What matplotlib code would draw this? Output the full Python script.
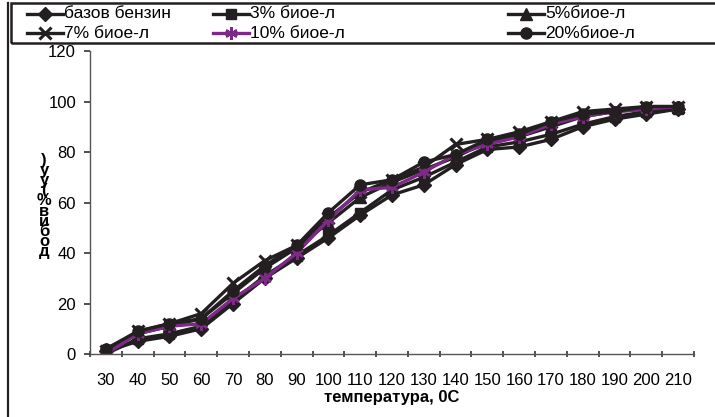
import matplotlib
matplotlib.use("Agg")
import matplotlib.pyplot as plt
from matplotlib.lines import Line2D
from matplotlib.patches import Rectangle
import numpy as np

plt.rcParams['font.family'] = ['Liberation Sans', 'DejaVu Sans']

# temperatures (category axis)
temps = [30, 40, 50, 60, 70, 80, 90, 100, 110, 120, 130, 140, 150, 160, 170, 180, 190, 200, 210]

# yield (%) for each fuel blend
base_fuel = [1, 5, 7, 10, 20, 30, 38, 46, 55, 63, 67, 75, 81, 82, 85, 90, 93, 95, 97]
bio_3 = [0, 6, 8, 11, 21, 31, 39, 47, 56, 65, 70, 76, 82, 84, 87, 91, 94, 96, 97]
bio_5 = [2, 8, 11, 14, 24, 34, 42, 52, 62, 68, 73, 78, 84, 86, 90, 94, 96, 97, 98]
bio_7 = [1, 9, 12, 16, 28, 37, 43, 54, 64, 69, 74, 83, 85, 88, 92, 96, 97, 98, 98]
bio_10 = [0, 8, 11, 12, 22, 30, 40, 53, 65, 66, 72, 79, 83, 86, 91, 94, 96, 97, 98]
bio_20 = [2, 9, 12, 14, 25, 35, 43, 56, 67, 69, 76, 79, 85, 87, 92, 95, 96, 98, 98]

labels = ['базов бензин', '3% биое-л', '5%биое-л', '7% биое-л', '10% биое-л', '20%биое-л']
series = [base_fuel, bio_3, bio_5, bio_7, bio_10, bio_20]

ylabel_chars = [')', 'у', 'у', '(', '%', 'в', 'и', 'б', 'о', 'д']
xlabel = 'температура, 0С'

BLACK = '#231f20'
PURPLE = '#7d2a86'
styles = [
    dict(marker='D', ms=7, color=BLACK),
    dict(marker='s', ms=7.5, color=BLACK),
    dict(marker='^', ms=8.5, color=BLACK),
    dict(marker='x', ms=8, mew=2.2, color=BLACK),
    dict(marker=(6, 2, 0), ms=9, mew=1.8, color=PURPLE),
    dict(marker='o', ms=8, color=BLACK),
]

W, H = 715, 417
fig = plt.figure(figsize=(W / 100, H / 100), dpi=100)
ax = fig.add_axes([90 / W, 1 - 354 / H, (694 - 90) / W, (354 - 51) / H])

x = np.arange(len(temps))
for vals, st in zip(series, styles):
    ax.plot(x, vals, lw=2.4, **st)

ax.set_xlim(-0.5, len(temps) - 0.5)
ax.set_ylim(0, 120)
ax.set_yticks(range(0, 121, 20))
ax.tick_params(axis='y', labelsize=12, length=4, width=1.2, color='#333333', pad=6)

# category axis: ticks between categories, labels at centres
ax.set_xticks(np.arange(-0.5, len(temps), 1.0))
ax.set_xticklabels([])
ax.set_xticks(x, minor=True)
ax.set_xticklabels([str(t) for t in temps], minor=True, fontsize=12)
ax.tick_params(axis='x', which='major', length=4, width=1.2, color='#333333', direction='inout')
ax.tick_params(axis='x', which='minor', length=0, pad=14)

for s in ['top', 'right']:
    ax.spines[s].set_visible(False)
for s in ['left', 'bottom']:
    ax.spines[s].set_color('#555555')
    ax.spines[s].set_linewidth(1)

ax.text(0.5, -0.118, xlabel, transform=ax.transAxes, ha='center', va='top',
        fontsize=12, fontweight='bold')

# stacked y label (one character per line)
fig.text(44 / W, 1 - 206 / H, '\n'.join(ylabel_chars), ha='center', va='center',
         fontsize=12, fontweight='bold', linespacing=0.6)

# outer frame line and legend box
fig.add_artist(Line2D([7.5 / W, 7.5 / W], [0, 1 - 3 / H], color=BLACK, lw=1.6))
fig.add_artist(Rectangle((11 / W, 1 - 43 / H), 1.0, 40 / H, fill=False,
                         edgecolor=BLACK, lw=1.8, transform=fig.transFigure))

col_x = [27, 213, 508]
row_y = [14, 33]
for i, (lab, st) in enumerate(zip(labels, styles)):
    cx = col_x[i % 3]
    cy = 1 - row_y[i // 3] / H
    fig.add_artist(Line2D([cx / W, (cx + 36) / W], [cy, cy], lw=2.4, **st,
                          markevery=[]))
    fig.add_artist(Line2D([(cx + 18) / W], [cy], lw=0, **st))
    fig.text((cx + 37) / W, cy, lab, ha='left', va='center', fontsize=12.5)

fig.savefig('out.png', dpi=100)
